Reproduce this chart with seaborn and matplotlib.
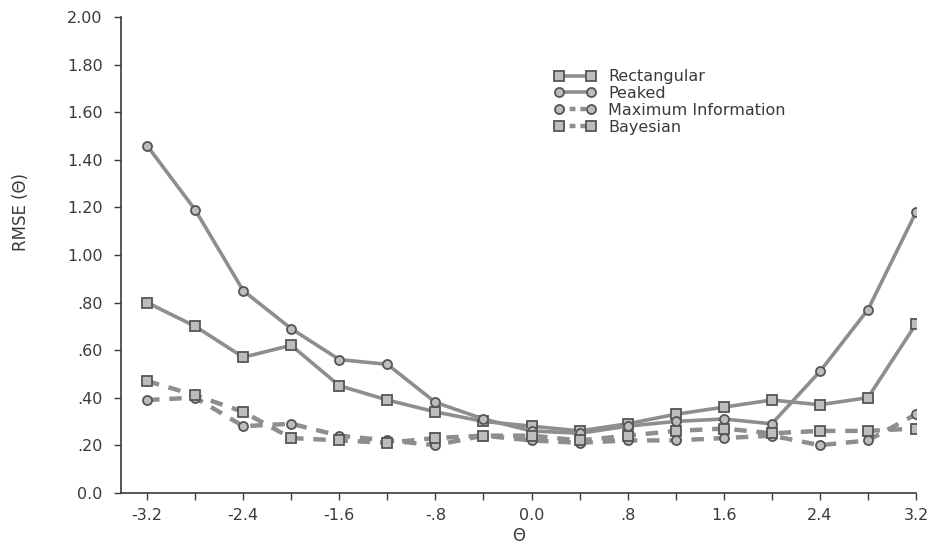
import numpy as np
import pandas as pd
import matplotlib
matplotlib.use("Agg")
import matplotlib.pyplot as plt
import seaborn as sns

# values
theta = [-3.2, -2.8, -2.4, -2.0, -1.6, -1.2, -0.8, -0.4, 0.0,
         0.4, 0.8, 1.2, 1.6, 2.0, 2.4, 2.8, 3.2]
rectangular = [0.80, 0.70, 0.57, 0.62, 0.45, 0.39, 0.34, 0.30, 0.28,
               0.26, 0.29, 0.33, 0.36, 0.39, 0.37, 0.40, 0.71]
peaked = [1.46, 1.19, 0.85, 0.69, 0.56, 0.54, 0.38, 0.31, 0.26,
          0.25, 0.28, 0.30, 0.31, 0.29, 0.51, 0.77, 1.18]
max_info = [0.39, 0.40, 0.28, 0.29, 0.24, 0.22, 0.20, 0.24, 0.22,
            0.21, 0.22, 0.22, 0.23, 0.24, 0.20, 0.22, 0.33]
bayesian = [0.47, 0.41, 0.34, 0.23, 0.22, 0.21, 0.23, 0.24, 0.24,
            0.22, 0.24, 0.26, 0.27, 0.25, 0.26, 0.26, 0.27]

y_ticks = [0.0, 0.2, 0.4, 0.6, 0.8, 1.0, 1.2, 1.4, 1.6, 1.8, 2.0]
y_labels = ["0.0", ".20", ".40", ".60", ".80", "1.00", "1.20", "1.40", "1.60", "1.80", "2.00"]
x_ticks = [-3.2, -2.4, -1.6, -0.8, 0.0, 0.8, 1.6, 2.4, 3.2]
x_labels = ["-3.2", "-2.4", "-1.6", "-.8", "0.0", ".8", "1.6", "2.4", "3.2"]

sns.set_style("ticks")
plt.rcParams['font.family'] = ['DejaVu Sans']
ink = "#3a3a3a"

fig = plt.figure(figsize=(9.31, 5.56), dpi=100)
ax = fig.add_axes([0.1296, 0.1138, 0.9839 - 0.1296, 0.969 - 0.1138])

df = pd.DataFrame({"theta": theta, "Rectangular": rectangular, "Peaked": peaked,
                   "Maximum Information": max_info, "Bayesian": bayesian})

styles = [
    ("Rectangular", "s", "-", 7.5),
    ("Peaked", "o", "-", 6.5),
    ("Maximum Information", "o", "--", 6.5),
    ("Bayesian", "s", "--", 7.5),
]
for name, mk, ls, ms in styles:
    kw = dict(marker=mk, markersize=ms, markerfacecolor="#bdbdbd",
              markeredgecolor="#555555", markeredgewidth=1.3, color="#8e8e8e")
    if ls == "--":
        kw.update(linewidth=3.2, dashes=(2.8, 2.2))
    else:
        kw.update(linewidth=2.6)
    sns.lineplot(data=df, x="theta", y=name, ax=ax, label=name, **kw)

ax.set_xlim(-3.42, 3.2)
ax.set_ylim(0, 2.0)
ax.set_yticks(y_ticks)
ax.set_yticklabels(y_labels)
ax.set_xticks(x_ticks)
ax.set_xticklabels(x_labels)
ax.set_xticks(np.arange(-2.8, 3.0, 0.8), minor=True)
ax.tick_params(axis="both", which="both", direction="out", length=5, width=1,
               colors=ink, labelsize=11.5)
ax.tick_params(axis="y", pad=8)
ax.tick_params(axis="x", pad=6)
sns.despine(ax=ax)
for s in ("left", "bottom"):
    ax.spines[s].set_color(ink)
    ax.spines[s].set_linewidth(1.2)

ax.set_xlabel("Θ", fontsize=12, color=ink, labelpad=3)
ax.set_ylabel("RMSE (Θ)", fontsize=12, color=ink)
ax.yaxis.set_label_coords(-0.114, 0.59)

leg = ax.legend(loc="upper left", bbox_to_anchor=(0.587, 0.89),
                bbox_transform=fig.transFigure, frameon=False, borderpad=0,
                numpoints=2, handlelength=2.6, handletextpad=0.75,
                labelspacing=0.12, fontsize=11.5)
for t in leg.get_texts():
    t.set_color(ink)
for ln in leg.get_lines()[2:]:
    ln.set_dashes((1.3, 1.1))

fig.savefig("out.png", dpi=100)
